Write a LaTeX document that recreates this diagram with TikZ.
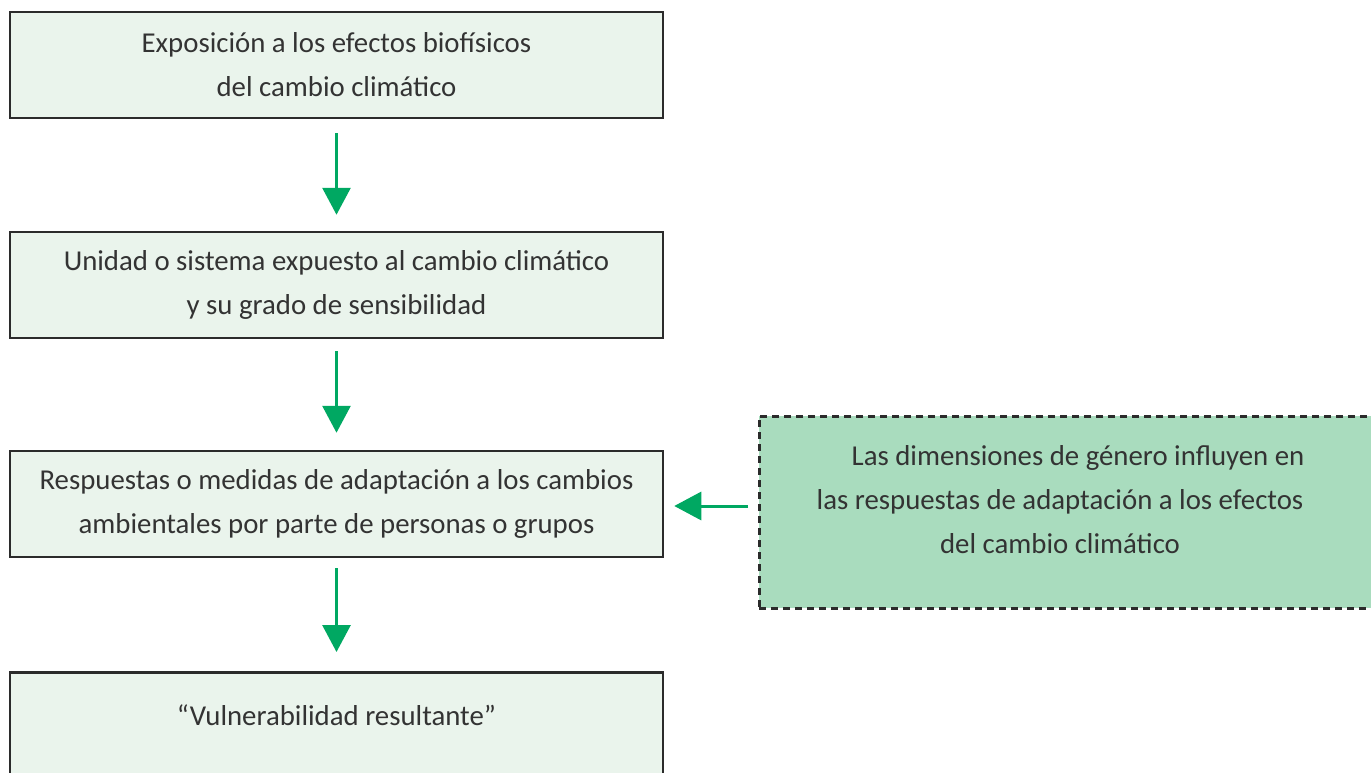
\documentclass[tikz,border=0pt]{standalone}
\usepackage{fontspec}
\setmainfont{Carlito}
\usetikzlibrary{arrows.meta}
\definecolor{boxfill}{HTML}{EAF4EC}
\definecolor{dashfill}{HTML}{A9DCBE}
\definecolor{arrowgreen}{HTML}{00A862}
\definecolor{txt}{HTML}{333333}
\definecolor{edge}{HTML}{2B2B2B}
\tikzset{
  every node/.style={text=txt, font=\fontsize{28.8}{44}\selectfont},
  box/.style={draw=edge, line width=2.5pt, fill=boxfill, minimum width=653pt, minimum height=106pt, align=center, inner sep=0pt},
  dashbox/.style={draw=edge, line width=2.5pt, dash pattern=on 7pt off 5pt, fill=dashfill, minimum width=640pt, minimum height=192pt, align=center, inner sep=0pt},
  flow/.style={draw=arrowgreen, line width=3pt, -{Triangle[width=28pt,length=27pt]}}
}
\begin{document}
\begin{tikzpicture}[x=1pt,y=-1pt]
\clip (0,0) rectangle (1371,773);
\fill[white] (0,0) rectangle (1371,773);
\node[box] (b1) at (336.5,65) {Exposición a los efectos biofísicos\\del cambio climático};
\node[box] (b2) at (336.5,285) {Unidad o sistema expuesto al cambio climático\\y su grado de sensibilidad};
\node[box] (b3) at (336.5,504) {Respuestas o medidas de adaptación a los cambios\\ambientales por parte de personas o grupos};
\node[box, minimum height=200pt, anchor=north, label={[anchor=center, yshift=-44pt]north:“Vulnerabilidad resultante”}] (b4) at (336.5,671) {};
\node[dashbox, anchor=north west] (d) at (758,415) {};
\node[align=center] (dt) at (1060,500) {\hspace*{36pt}Las dimensiones de género influyen en\\las respuestas de adaptación a los efectos\\del cambio climático};
\draw[flow, shorten <=14pt, shorten >=16pt] (b1.south) -- (b2.north);
\draw[flow, shorten <=12pt, shorten >=17pt] (b2.south) -- (b3.north);
\draw[flow, shorten <=10pt, shorten >=19pt] (b3.south) -- (b4.north);
\draw[flow, shorten <=10pt, shorten >=10pt] (d.west |- 0,506) -- (b3.east |- 0,506);
\end{tikzpicture}
\end{document}
